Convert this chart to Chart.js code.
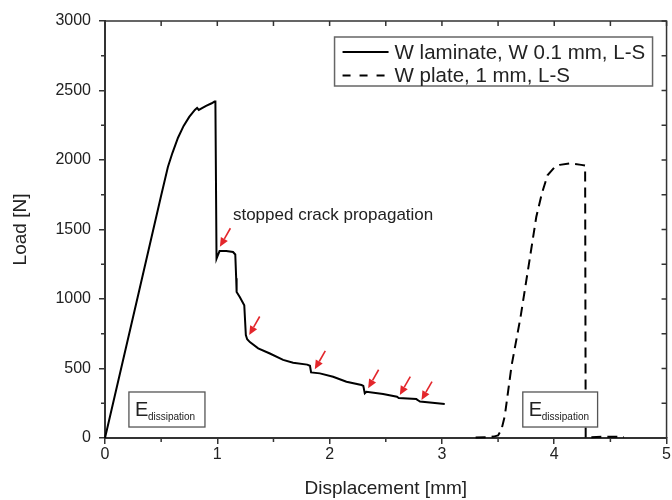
<!DOCTYPE html>
<html>
<head>
<meta charset="utf-8">
<script src="https://cdn.jsdelivr.net/npm/chart.js@4.4.1/dist/chart.umd.min.js"></script>
<style>
  html, body { margin: 0; padding: 0; background: #fff; }
  #wrap { width: 672px; height: 500px; }
</style>
</head>
<body>
<div id="wrap"><canvas id="c" width="672" height="500"></canvas></div>
<script>
// Load–displacement curves, L-S orientation
const laminateX = [0, 0.3, 0.5, 0.56, 0.6, 0.65, 0.7, 0.75, 0.8, 0.82, 0.835, 0.86, 0.9, 0.95, 0.975, 0.983,
  0.993, 1.0, 1.02, 1.08, 1.14, 1.16, 1.168, 1.172, 1.2, 1.24, 1.254, 1.266, 1.29, 1.364, 1.468, 1.586, 1.675,
  1.8, 1.825, 1.835, 1.913, 2.031, 2.15, 2.284, 2.3, 2.313, 2.328, 2.476, 2.6, 2.615, 2.772, 2.79, 2.805, 3.025];
const laminateY = [0, 1045, 1745, 1950, 2050, 2160, 2245, 2310, 2360, 2375, 2360, 2372, 2390, 2408, 2420, 2420,
  1290, 1305, 1345, 1345, 1338, 1320, 1150, 1050, 1015, 955, 740, 710, 690, 645, 608, 562, 542,
  528, 520, 472, 465, 441, 405, 381, 375, 322, 333, 317, 297, 288, 280, 270, 262, 245];

const plateX = [3.3, 3.4, 3.46, 3.5, 3.53, 3.56, 3.62, 3.7, 3.78, 3.84, 3.89, 3.94, 4.0, 4.05, 4.14, 4.24, 4.275,
  4.28, 4.3, 4.45, 4.62];
const plateY = [3, 5, 10, 18, 60, 160, 520, 870, 1280, 1590, 1760, 1890, 1945, 1965, 1975, 1965, 1960,
  2, 5, 10, 8];

const seriesNames = ['W laminate, W 0.1 mm, L-S', 'W plate, 1 mm, L-S'];
const xTickLabels = ['0', '1', '2', '3', '4', '5'];
const yTickLabels = ['0', '500', '1000', '1500', '2000', '2500', '3000'];
const xTitle = 'Displacement [mm]';
const yTitle = 'Load [N]';

// Arrow heads marking arrested crack steps
const arrowX = [1.023, 1.284, 1.868, 2.343, 2.625, 2.818];
const arrowY = [1376, 741, 494, 358, 309, 273];
const noteText = 'stopped crack propagation';
const energyMain = 'E';
const energySub = 'dissipation';

const FONT = '"Liberation Sans", Arial, Helvetica, sans-serif';
const INK = '#222';

const toPts = (xs, ys) => xs.map((x, i) => ({ x: x, y: ys[i] }));

const decor = {
  id: 'decor',
  beforeDatasetsDraw(chart) {
    const { ctx, chartArea: a, scales: { x, y } } = chart;
    ctx.save();
    ctx.strokeStyle = '#333';
    ctx.lineWidth = 1.5;
    // top and right frame
    ctx.beginPath();
    ctx.moveTo(a.left, a.top); ctx.lineTo(a.right, a.top); ctx.lineTo(a.right, a.bottom);
    ctx.stroke();
    ctx.beginPath();
    // minor ticks (outward) and inward ticks on top / right edges
    for (let v = 0; v <= 5.0001; v += 0.5) {
      const px = x.getPixelForValue(v);
      if (Math.abs(v - Math.round(v)) > 0.01) { ctx.moveTo(px, a.bottom); ctx.lineTo(px, a.bottom + 4); }
      ctx.moveTo(px, a.top); ctx.lineTo(px, a.top + 5);
    }
    for (let v = 0; v <= 3000; v += 250) {
      const py = y.getPixelForValue(v);
      if (v % 500 !== 0) { ctx.moveTo(a.left, py); ctx.lineTo(a.left - 4, py); }
      ctx.moveTo(a.right, py); ctx.lineTo(a.right - 5, py);
    }
    ctx.stroke();
    ctx.restore();
  },
  afterDatasetsDraw(chart) {
    const { ctx, chartArea: a, scales: { x, y } } = chart;
    ctx.save();

    // energy boxes: [x from, x to, load top, load bottom]
    const boxes = [[0.213, 0.89, 331, 79], [3.72, 4.386, 331, 79]];
    boxes.forEach(b => {
      const l = x.getPixelForValue(b[0]), r = x.getPixelForValue(b[1]);
      const t = y.getPixelForValue(b[2]), btm = y.getPixelForValue(b[3]);
      ctx.fillStyle = '#fff';
      ctx.fillRect(l, t, r - l, btm - t);
      ctx.strokeStyle = '#555';
      ctx.lineWidth = 1.3;
      ctx.strokeRect(l, t, r - l, btm - t);
      ctx.fillStyle = INK;
      ctx.textBaseline = 'alphabetic';
      ctx.textAlign = 'left';
      ctx.font = '20px ' + FONT;
      ctx.fillText(energyMain, l + 6, t + 24);
      ctx.font = '10px ' + FONT;
      ctx.fillText(energySub, l + 19, t + 28);
    });

    // red arrows
    ctx.strokeStyle = '#e3262b';
    ctx.fillStyle = '#e3262b';
    ctx.lineWidth = 1.6;
    arrowX.forEach((vx, i) => {
      const hx = x.getPixelForValue(vx), hy = y.getPixelForValue(arrowY[i]);
      const tx = hx + 10.5, ty = hy - 18.5;
      const ang = Math.atan2(hy - ty, hx - tx);
      const hl = 9, hw = 4;
      const bx = hx - hl * Math.cos(ang), by = hy - hl * Math.sin(ang);
      ctx.beginPath(); ctx.moveTo(tx, ty); ctx.lineTo(bx, by); ctx.stroke();
      ctx.beginPath();
      ctx.moveTo(hx, hy);
      ctx.lineTo(bx + hw * Math.sin(ang), by - hw * Math.cos(ang));
      ctx.lineTo(bx - hw * Math.sin(ang), by + hw * Math.cos(ang));
      ctx.closePath(); ctx.fill();
    });

    // note
    ctx.fillStyle = INK;
    ctx.font = '17px ' + FONT;
    ctx.textAlign = 'left';
    ctx.textBaseline = 'middle';
    ctx.fillText(noteText, x.getPixelForValue(1.139), y.getPixelForValue(1604));

    // legend
    const lx = a.right - 332, ly = a.top + 16, lw = 318, lh = 49;
    ctx.fillStyle = '#fff';
    ctx.fillRect(lx, ly, lw, lh);
    ctx.strokeStyle = '#666';
    ctx.lineWidth = 1.5;
    ctx.strokeRect(lx, ly, lw, lh);
    ctx.font = '20.5px ' + FONT;
    ctx.textBaseline = 'middle';
    chart.data.datasets.forEach((ds, i) => {
      const cy = ly + 15 + i * 23.5;
      ctx.strokeStyle = '#000';
      ctx.lineWidth = 2;
      ctx.setLineDash(ds.borderDash ? [8, 9] : []);
      ctx.beginPath(); ctx.moveTo(lx + 8, cy); ctx.lineTo(lx + 54, cy); ctx.stroke();
      ctx.setLineDash([]);
      ctx.fillStyle = INK;
      ctx.fillText(ds.label, lx + 60, cy + 1);
    });
    ctx.restore();
  }
};

new Chart(document.getElementById('c'), {
  type: 'scatter',
  data: {
    datasets: [
      { label: seriesNames[0], data: toPts(laminateX, laminateY), showLine: true, borderColor: '#000',
        borderWidth: 2, pointRadius: 0, tension: 0, clip: 6 },
      { label: seriesNames[1], data: toPts(plateX, plateY), showLine: true, borderColor: '#000',
        borderWidth: 2, borderDash: [10, 6], pointRadius: 0, tension: 0, clip: 6 }
    ]
  },
  options: {
    responsive: false,
    animation: false,
    layout: { padding: { left: 0, right: 5, top: 21, bottom: 0 } },
    plugins: { legend: { display: false }, tooltip: { enabled: false } },
    scales: {
      x: {
        type: 'linear', min: 0, max: 5,
        afterFit: s => { s.height = 62; },
        ticks: { stepSize: 1, padding: 1, color: INK, font: { family: FONT, size: 16 },
          callback: v => xTickLabels[Math.round(v)] },
        grid: { drawOnChartArea: false, drawTicks: true, tickLength: 6, color: '#333', lineWidth: 1.5 },
        border: { display: true, color: '#333', width: 2 },
        title: { display: true, text: xTitle, color: INK, font: { family: FONT, size: 19 },
          padding: { top: 0, bottom: 0 } }
      },
      y: {
        type: 'linear', min: 0, max: 3000,
        afterFit: s => { s.width = 105; },
        ticks: { stepSize: 500, padding: 8, color: INK, font: { family: FONT, size: 16 },
          callback: v => yTickLabels[Math.round(v / 500)] },
        grid: { drawOnChartArea: false, drawTicks: true, tickLength: 6, color: '#333', lineWidth: 1.5 },
        border: { display: true, color: '#333', width: 2 },
        title: { display: true, text: yTitle, color: INK, font: { family: FONT, size: 19 },
          padding: { top: 9, bottom: 0 } }
      }
    }
  },
  plugins: [decor]
});
</script>
</body>
</html>
